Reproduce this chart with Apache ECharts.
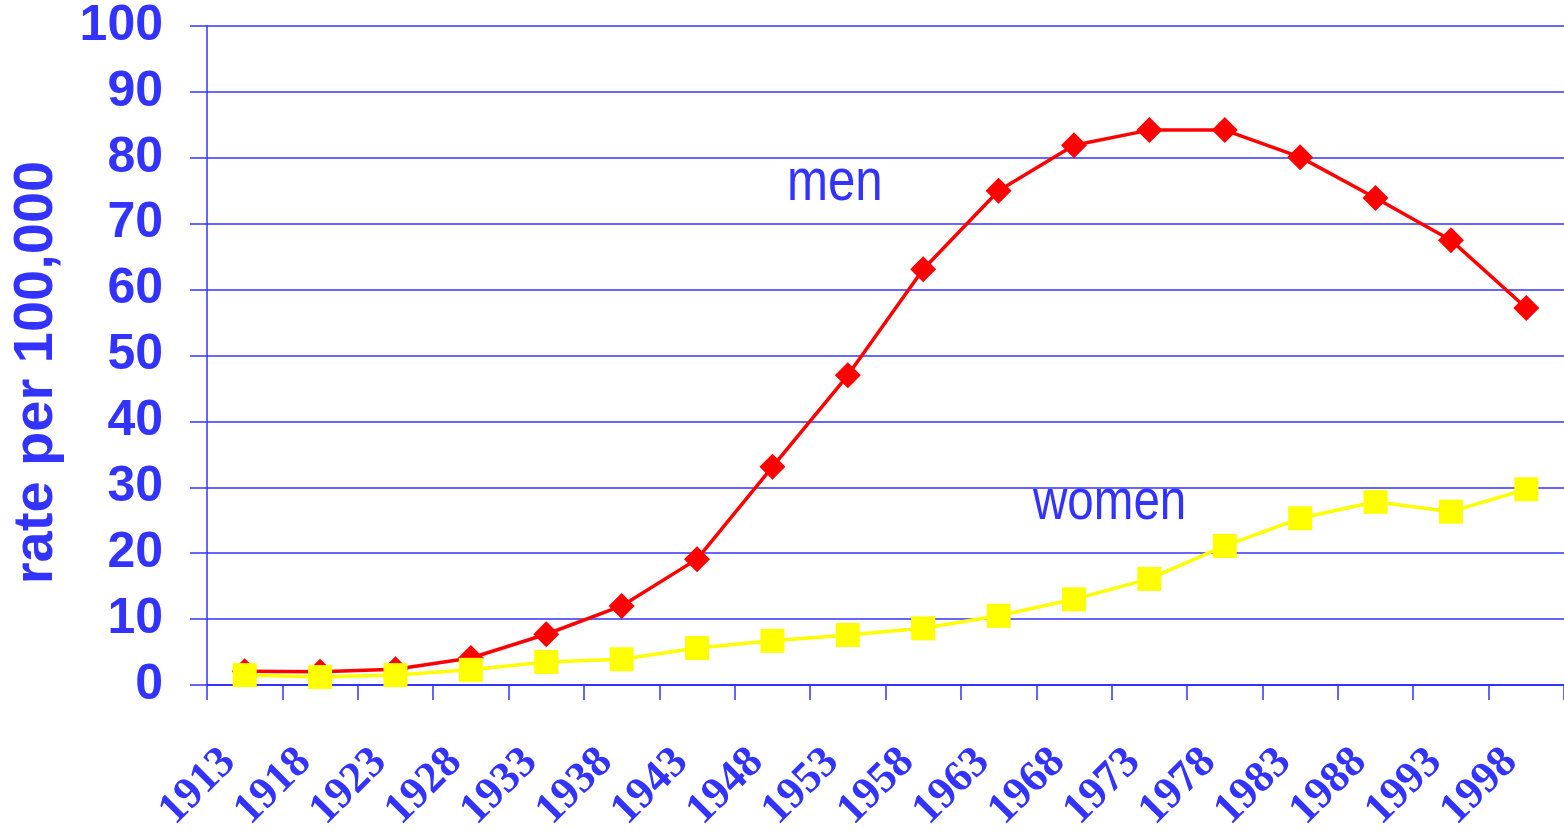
<!doctype html>
<html>
<head>
    <title>rate per 100,000</title>
    <meta http-equiv="Content-Type" content="text/html; charset=utf-8"/>
    <script type="text/javascript" src="https://cdn.jsdelivr.net/npm/echarts@6/dist/echarts.min.js"></script>
    <style>
        html, body { margin: 0; padding: 0; background: #fff; }
    </style>
</head>
<body>
<div id="main" style="width:1564px;height:835px;"></div>
<script>
// data
var years = ['1913', '1918', '1923', '1928', '1933', '1938', '1943', '1948', '1953',
             '1958', '1963', '1968', '1973', '1978', '1983', '1988', '1993', '1998'];
var men = [2.1, 2.0, 2.4, 4.1, 7.7, 12.0, 19.1, 33.1, 47.0,
           63.1, 75.0, 81.9, 84.2, 84.2, 80.1, 73.9, 67.5, 57.2];
var women = [1.5, 1.2, 1.5, 2.3, 3.5, 3.9, 5.6, 6.7, 7.6,
             8.6, 10.5, 13.0, 16.1, 21.1, 25.3, 27.8, 26.3, 29.7];

var blue = '#3333ff';

var myChart = echarts.init(document.getElementById('main'));

var option = {
    animation: false,
    grid: {
        left: 207,
        top: 26,
        right: 0,
        bottom: 150,
        outerBoundsMode: 'none'
    },
    xAxis: {
        type: 'category',
        data: years,
        boundaryGap: true,
        axisLine: { lineStyle: { color: blue, width: 2 } },
        axisTick: { show: true, length: 15, lineStyle: { color: blue, width: 1.5 } },
        axisLabel: {
            interval: 0,
            rotate: 45,
            margin: 55,
            padding: [0, 22, 0, 0],
            color: blue,
            fontFamily: '"Liberation Serif", "Times New Roman", serif',
            fontWeight: 'bold',
            fontSize: 44
        },
        splitLine: { show: false }
    },
    yAxis: {
        type: 'value',
        min: 0,
        max: 100,
        interval: 10,
        name: 'rate per 100,000',
        nameLocation: 'middle',
        nameGap: 142,
        nameTextStyle: {
            color: blue,
            fontFamily: '"Liberation Sans", Arial, sans-serif',
            fontWeight: 'bold',
            fontSize: 56,
            padding: [0, 34, 0, 0]
        },
        axisLine: { show: true, lineStyle: { color: blue, width: 1.5 } },
        axisTick: { show: true, length: 17, lineStyle: { color: blue, width: 1.5 } },
        axisLabel: {
            margin: 44,
            color: blue,
            fontFamily: '"Liberation Sans", Arial, sans-serif',
            fontWeight: 'bold',
            fontSize: 50
        },
        splitLine: { show: true, lineStyle: { color: blue, width: 1.5 } }
    },
    graphic: [
        {
            type: 'text',
            x: 787,
            y: 183,
            scaleX: 0.82,
            style: {
                text: 'men',
                fill: blue,
                font: '60px "Liberation Sans", Arial, sans-serif',
                textAlign: 'left',
                textVerticalAlign: 'middle'
            }
        },
        {
            type: 'text',
            x: 1033,
            y: 503,
            scaleX: 0.82,
            style: {
                text: 'women',
                fill: blue,
                font: '58px "Liberation Sans", Arial, sans-serif',
                textAlign: 'left',
                textVerticalAlign: 'middle'
            }
        }
    ],
    series: [
        {
            name: 'men',
            type: 'line',
            data: men,
            symbol: 'diamond',
            symbolSize: 26,
            itemStyle: { color: '#ff0000' },
            lineStyle: { color: '#ff0000', width: 3.5 }
        },
        {
            name: 'women',
            type: 'line',
            data: women,
            symbol: 'rect',
            symbolSize: 24,
            itemStyle: { color: '#ffff00' },
            lineStyle: { color: '#ffff00', width: 3.5 }
        }
    ]
};

myChart.setOption(option);
</script>
</body>
</html>
